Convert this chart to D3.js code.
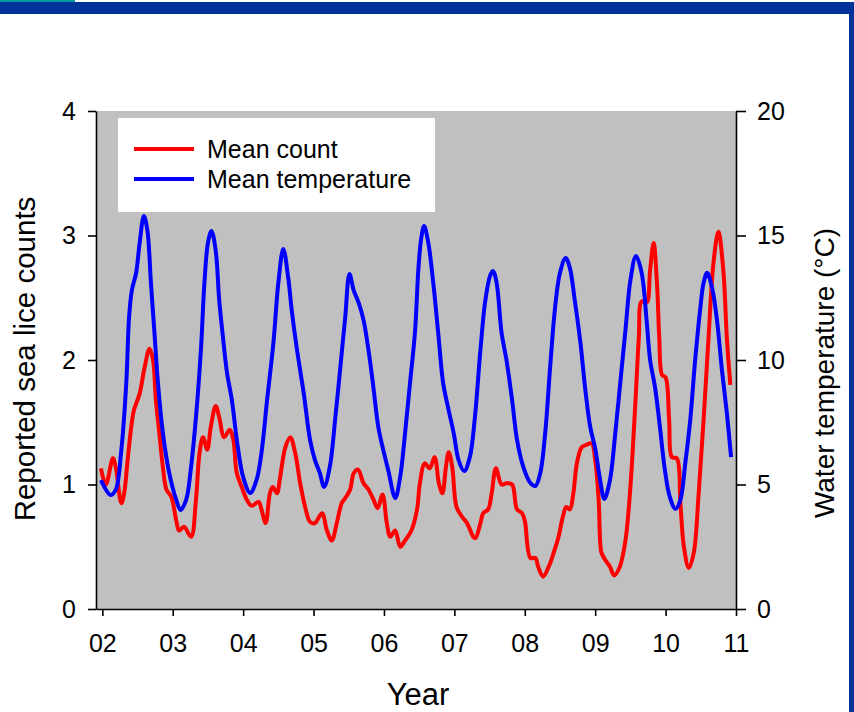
<!DOCTYPE html>
<html>
<head>
<meta charset="utf-8">
<script src="https://cdn.jsdelivr.net/npm/d3@7"></script>
<style>
    body { margin: 0; background: #fff; }
    svg { display: block; font-family: Arial, "Liberation Sans", sans-serif; }
    .axis path, .axis line { stroke: #000; stroke-width: 1.6; }
    .axis text { font-size: 25px; fill: #000; font-family: Arial, "Liberation Sans", sans-serif; }
</style>
</head>
<body>
<div id="chart"></div>
<script>
const width = 854;
const height = 712;
const margins = ({
    top: 111,
    right: 118,
    bottom: 103,
    left: 96
})

// time in years since 2000 (02 = 2002)
const countTime = [1.98, 2.05, 2.15, 2.19, 2.27, 2.31, 2.36, 2.41, 2.45, 2.53, 2.60, 2.67, 2.72, 2.76, 2.81, 2.86, 2.91, 2.98,
    3.05, 3.09, 3.16, 3.26, 3.33, 3.38, 3.43, 3.49, 3.54, 3.61, 3.66, 3.73, 3.81, 3.86, 3.91, 3.98,
    4.05, 4.12, 4.22, 4.26, 4.32, 4.38, 4.42, 4.48, 4.52, 4.60, 4.67, 4.74, 4.81, 4.88, 4.95,
    5.02, 5.12, 5.19, 5.26, 5.33, 5.40, 5.45, 5.52, 5.57, 5.63, 5.71, 5.78, 5.85, 5.91, 5.98,
    6.04, 6.09, 6.16, 6.23, 6.30, 6.39, 6.47, 6.51, 6.58, 6.65, 6.72, 6.78, 6.83, 6.88, 6.92, 6.97,
    7.03, 7.11, 7.18, 7.27, 7.30, 7.37, 7.41, 7.48, 7.53, 7.59, 7.67, 7.74, 7.82, 7.89, 7.96,
    8.00, 8.08, 8.15, 8.19, 8.26, 8.34, 8.41, 8.48, 8.54, 8.59, 8.64, 8.69, 8.74, 8.81, 8.88, 8.95,
    9.00, 9.05, 9.07, 9.09, 9.16, 9.21, 9.27, 9.35, 9.43, 9.50, 9.57, 9.62, 9.66, 9.73, 9.78, 9.83, 9.88, 9.91, 9.95,
    10.00, 10.05, 10.09, 10.16, 10.21, 10.26, 10.33, 10.40, 10.47, 10.54, 10.61, 10.68, 10.75, 10.82, 10.87, 10.92]
const countValues = [1.13, 1.0, 1.21, 1.14, 0.85, 0.93, 1.2, 1.46, 1.6, 1.73, 1.94, 2.09, 2.0, 1.68, 1.41, 1.14, 0.96, 0.9,
    0.71, 0.63, 0.66, 0.58, 0.88, 1.25, 1.38, 1.28, 1.46, 1.63, 1.54, 1.38, 1.44, 1.36, 1.09, 0.98,
    0.88, 0.83, 0.86, 0.8, 0.69, 0.93, 0.98, 0.93, 1.04, 1.3, 1.38, 1.25, 1.01, 0.82, 0.7,
    0.69, 0.77, 0.63, 0.55, 0.69, 0.85, 0.89, 0.96, 1.09, 1.12, 1.01, 0.96, 0.88, 0.81, 0.92,
    0.69, 0.58, 0.63, 0.5, 0.55, 0.63, 0.8, 1.01, 1.17, 1.13, 1.22, 1.01, 0.93, 1.14, 1.26, 1.14,
    0.82, 0.74, 0.69, 0.58, 0.57, 0.69, 0.77, 0.8, 0.93, 1.13, 1.0, 1.01, 1.0, 0.8, 0.77,
    0.71, 0.41, 0.41, 0.34, 0.26, 0.34, 0.45, 0.58, 0.74, 0.82, 0.8, 0.93, 1.17, 1.3, 1.32, 1.33,
    1.2, 0.87, 0.55, 0.45, 0.38, 0.34, 0.27, 0.34, 0.55, 0.98, 1.65, 2.18, 2.47, 2.46, 2.72, 2.94, 2.59, 2.18, 1.88,
    1.86, 1.52, 1.22, 1.21, 0.85, 0.5, 0.33, 0.45, 0.93, 1.52, 2.18, 2.78, 3.03, 2.72, 2.18, 1.8]

const tempTime = [1.98, 2.12, 2.19, 2.27, 2.34, 2.38, 2.42, 2.48, 2.53, 2.59, 2.64, 2.69, 2.74, 2.79, 2.86, 2.95,
    3.05, 3.11, 3.19, 3.26, 3.33, 3.40, 3.45, 3.50, 3.55, 3.61, 3.66, 3.71, 3.77, 3.84, 3.91,
    4.00, 4.10, 4.19, 4.26, 4.34, 4.43, 4.50, 4.57, 4.64, 4.69, 4.76, 4.86, 4.95,
    5.02, 5.09, 5.15, 5.23, 5.31, 5.38, 5.45, 5.51, 5.57, 5.64, 5.71, 5.78, 5.85, 5.92, 5.99,
    6.06, 6.16, 6.23, 6.30, 6.37, 6.44, 6.49, 6.53, 6.57, 6.63, 6.70, 6.77, 6.84, 6.91, 6.99,
    7.06, 7.14, 7.22, 7.29, 7.37, 7.44, 7.51, 7.55, 7.60, 7.67, 7.74, 7.82, 7.89, 7.98,
    8.08, 8.15, 8.22, 8.29, 8.36, 8.43, 8.50, 8.58, 8.64, 8.71, 8.79, 8.86, 8.93,
    9.00, 9.07, 9.13, 9.21, 9.28, 9.35, 9.43, 9.50, 9.58, 9.66, 9.73, 9.78, 9.85, 9.92, 9.99,
    10.06, 10.14, 10.21, 10.28, 10.35, 10.42, 10.49, 10.54, 10.59, 10.66, 10.73, 10.80, 10.87, 10.93]
const tempValues = [5.18, 4.58, 4.78, 6.39, 9.08, 11.73, 12.81, 13.5, 14.7, 15.78, 15.2, 13.1, 11.1, 9.08, 7.07, 5.46,
    4.38, 3.98, 4.38, 5.7, 7.71, 10.4, 13.1, 14.7, 15.18, 14.4, 12.4, 11.0, 9.5, 8.39, 6.79,
    5.3, 4.66, 5.18, 6.27, 8.39, 10.7, 13.1, 14.46, 13.3, 12.0, 10.5, 8.67, 6.79,
    5.98, 5.46, 4.9, 5.7, 7.71, 9.7, 11.73, 13.45, 12.8, 12.3, 11.6, 10.4, 8.9, 7.3, 6.39,
    5.58, 4.46, 5.3, 7.07, 9.08, 11.1, 13.7, 14.9, 15.38, 14.7, 13.1, 11.1, 9.08, 8.1, 7.07,
    5.98, 5.54, 6.1, 7.65, 10.4, 12.4, 13.4, 13.57, 13.1, 11.1, 10.0, 8.39, 6.79, 5.7,
    5.06, 4.94, 5.46, 7.07, 9.7, 12.1, 13.5, 14.1, 13.7, 12.4, 10.7, 8.8, 7.3,
    6.45, 5.18, 4.42, 5.18, 6.9, 8.9, 11.2, 13.2, 14.18, 13.5, 11.6, 10.0, 8.9, 7.3, 5.58,
    4.5, 4.02, 4.38, 5.86, 7.59, 10.0, 12.0, 13.1, 13.5, 12.9, 11.6, 9.6, 7.87, 6.1]

const yearTicks = [2, 3, 4, 5, 6, 7, 8, 9, 10, 11]
const countTicks = [0, 1, 2, 3, 4]
const tempTicks = [0, 5, 10, 15, 20]
const seriesNames = ["Mean count", "Mean temperature"]
const seriesColors = ["#ff0000", "#0000ff"]

const svg = d3.select("#chart")
    .append("svg")
    .attr("width", width)
    .attr("height", height)

// slide frame
svg.append("rect").attr("x", 0).attr("y", 2).attr("width", width).attr("height", 12).attr("fill", "#003399")
svg.append("rect").attr("x", 0).attr("y", 0).attr("width", 75).attr("height", 2).attr("fill", "#009999")
svg.append("rect").attr("x", 849).attr("y", 2).attr("width", 5).attr("height", height).attr("fill", "#003399")

const x = d3.scaleLinear().domain([1.91, 11]).range([margins.left, width - margins.right])
const yCount = d3.scaleLinear().domain([0, 4]).range([height - margins.bottom, margins.top])
const yTemp = d3.scaleLinear().domain([0, 20]).range([height - margins.bottom, margins.top])

svg.append("rect")
    .attr("x", margins.left)
    .attr("y", margins.top)
    .attr("width", width - margins.left - margins.right)
    .attr("height", height - margins.top - margins.bottom)
    .attr("fill", "#c0c0c0")

const countData = countTime.map((t, i) => ({x: t, y: countValues[i]}))
const tempData = tempTime.map((t, i) => ({x: t, y: tempValues[i]}))

const countLine = d3.line().x(d => x(d.x)).y(d => yCount(d.y)).curve(d3.curveCatmullRom.alpha(0.5))
const tempLine = d3.line().x(d => x(d.x)).y(d => yTemp(d.y)).curve(d3.curveCatmullRom.alpha(0.5))

svg.append("path")
    .datum(countData)
    .attr("d", countLine)
    .attr("fill", "none")
    .attr("stroke", seriesColors[0])
    .attr("stroke-width", 4)
    .attr("stroke-linejoin", "round")

svg.append("path")
    .datum(tempData)
    .attr("d", tempLine)
    .attr("fill", "none")
    .attr("stroke", seriesColors[1])
    .attr("stroke-width", 4)
    .attr("stroke-linejoin", "round")

// axes
svg.append("g")
    .attr("class", "axis")
    .attr("transform", `translate(0,${height - margins.bottom})`)
    .call(d3.axisBottom(x).tickValues(yearTicks).tickFormat(d3.format("02d")).tickSize(7).tickSizeOuter(0).tickPadding(18))

svg.append("g")
    .attr("class", "axis")
    .attr("transform", `translate(${margins.left},0)`)
    .call(d3.axisLeft(yCount).tickValues(countTicks).tickFormat(d3.format("d")).tickSize(8).tickSizeOuter(0).tickPadding(12))

svg.append("g")
    .attr("class", "axis")
    .attr("transform", `translate(${width - margins.right},0)`)
    .call(d3.axisRight(yTemp).tickValues(tempTicks).tickFormat(d3.format("d")).tickSize(10).tickSizeOuter(0).tickPadding(11))

// legend
const legend = svg.append("g")
legend.append("rect")
    .attr("x", 118)
    .attr("y", 118)
    .attr("width", 317)
    .attr("height", 94)
    .attr("fill", "#fff")
seriesNames.forEach((name, i) => {
    let ly = 149 + i * 30
    legend.append("line")
        .attr("x1", 134).attr("x2", 194)
        .attr("y1", ly).attr("y2", ly)
        .attr("stroke", seriesColors[i])
        .attr("stroke-width", 4)
    legend.append("text")
        .text(name)
        .attr("x", 207)
        .attr("y", ly + 9)
        .attr("font-size", 25)
})

// axis titles
svg.append("text")
    .text("Reported sea lice counts")
    .attr("transform", `translate(35,359) rotate(-90)`)
    .attr("text-anchor", "middle")
    .attr("font-size", 29.5)
svg.append("text")
    .text("Water temperature (°C)")
    .attr("transform", `translate(834,373) rotate(-90)`)
    .attr("text-anchor", "middle")
    .attr("font-size", 28)
svg.append("text")
    .text("Year")
    .attr("x", 418)
    .attr("y", 705)
    .attr("text-anchor", "middle")
    .attr("font-size", 31)
</script>
</body>
</html>
